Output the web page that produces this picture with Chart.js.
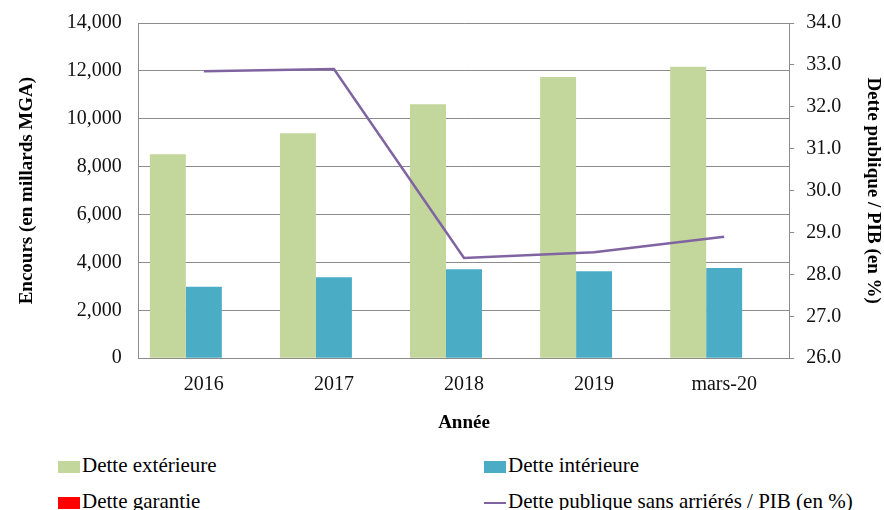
<!DOCTYPE html>
<html>
<head>
<meta charset="utf-8">
<script src="https://cdn.jsdelivr.net/npm/chart.js@4.4.0/dist/chart.umd.min.js"></script>
<style>
    body { margin: 0; background: #fff; }
    #wrap { position: relative; width: 884px; height: 510px; overflow: hidden; }
    #js--chart { position: absolute; left: 0; top: -6px; }
    .legend-item { position: absolute; font-family: "Liberation Serif", "DejaVu Serif", serif; font-size: 21px; line-height: 24px; color: #000; white-space: nowrap; }
    .legend-box { display: inline-block; width: 22px; height: 12px; vertical-align: middle; margin-right: 2px; }
    .legend-line { display: inline-block; width: 22px; height: 2px; vertical-align: middle; margin-right: 2px; }
</style>
</head>
<body>
<div id="wrap">
    <canvas id="js--chart" width="884" height="448"></canvas>
    <div class="legend-item" style="left:58px; top:453px;"><span class="legend-box" style="background:#c3d69b"></span>Dette extérieure</div>
    <div class="legend-item" style="left:484px; top:453px;"><span class="legend-box" style="background:#4bacc6"></span>Dette intérieure</div>
    <div class="legend-item" style="left:58px; top:489px;"><span class="legend-box" style="background:#ff0000"></span>Dette garantie</div>
    <div class="legend-item" style="left:484px; top:489px;"><span class="legend-line" style="background:#8064a2"></span>Dette publique sans arriérés / PIB (en %)</div>
</div>
<script>
const annees = ["2016", "2017", "2018", "2019", "mars-20"];
const detteExterieure = [8520, 9400, 10610, 11740, 12170];
const detteInterieure = [2980, 3385, 3720, 3635, 3770];
const detteGarantie = [0, 0, 0, 0, 0];
const dettePib = [32.85, 32.9, 28.39, 28.53, 28.9];

const gridColor = "#8c8c8c";
const tickFont = { family: "Liberation Serif", size: 20 };
const titleFont = { family: "Liberation Serif", size: 19, weight: "bold" };

const dataDette = {
    labels: annees,
    datasets: [
        {
            type: "line",
            label: "Dette publique sans arriérés / PIB (en %)",
            data: dettePib,
            borderColor: "#8064a2",
            borderWidth: 2.5,
            pointRadius: 0,
            tension: 0,
            yAxisID: "y2",
            order: 0
        },
        {
            label: "Dette extérieure",
            data: detteExterieure,
            backgroundColor: "#c3d69b",
            yAxisID: "y",
            order: 1
        },
        {
            label: "Dette intérieure",
            data: detteInterieure,
            backgroundColor: "#4bacc6",
            yAxisID: "y",
            order: 1
        },
        {
            label: "Dette garantie",
            data: detteGarantie,
            backgroundColor: "#ff0000",
            yAxisID: "y",
            order: 1
        }
    ]
};

const configDette = {
    type: "bar",
    data: dataDette,
    options: {
        responsive: false,
        animation: false,
        barPercentage: 1,
        categoryPercentage: 0.83,
        layout: { padding: { left: 14, right: 0, top: 3, bottom: 4 } },
        plugins: {
            legend: { display: false },
            tooltip: { enabled: false }
        },
        scales: {
            x: {
                grid: { display: false, drawTicks: true },
                border: { color: gridColor, width: 1 },
                ticks: { font: tickFont, color: "#111", padding: 7 },
                title: { display: true, text: "Année", font: titleFont, color: "#000", padding: { top: 7 } }
            },
            y: {
                position: "left",
                min: 0,
                max: 14000,
                ticks: {
                    stepSize: 2000,
                    font: tickFont,
                    color: "#111",
                    padding: 17,
                    callback: function(value){
                        return value.toLocaleString("en-US");
                    }
                },
                grid: { color: gridColor, drawTicks: false },
                border: { color: gridColor, width: 1 },
                title: { display: true, text: "Encours (en millards MGA)", font: titleFont, color: "#000", padding: { top: 2, bottom: 11 } }
            },
            y2: {
                position: "right",
                min: 26,
                max: 34,
                ticks: {
                    stepSize: 1,
                    font: tickFont,
                    color: "#111",
                    padding: 12,
                    callback: function(value){
                        return value.toFixed(1);
                    }
                },
                grid: { drawOnChartArea: false, color: gridColor, tickLength: 5 },
                border: { color: gridColor, width: 1 },
                title: { display: true, text: "Dette publique / PIB (en %)", font: titleFont, color: "#000", padding: { top: 0, bottom: 8 } }
            }
        }
    }
};

const chartDette = new Chart(document.getElementById("js--chart"), configDette);
</script>
</body>
</html>
